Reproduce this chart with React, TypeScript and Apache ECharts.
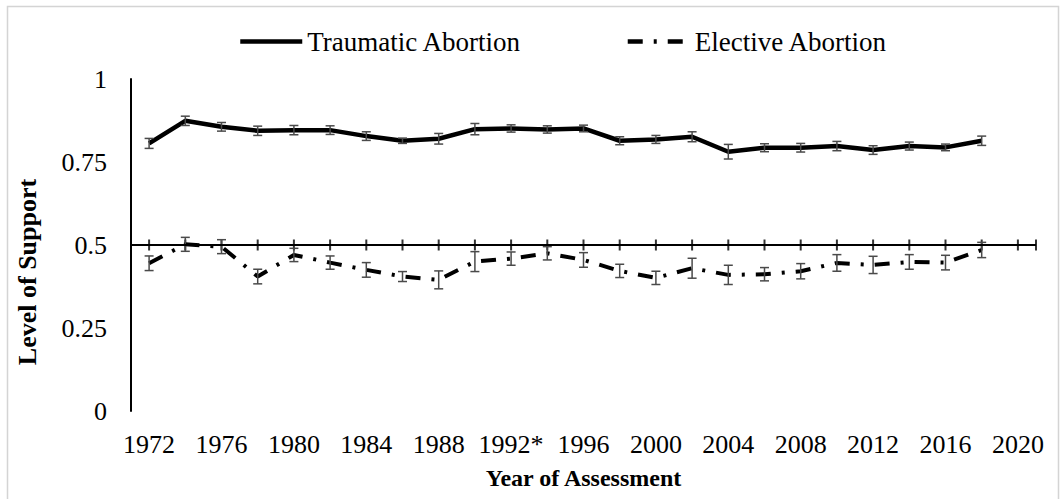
import React, { useEffect, useRef } from "react";
import * as echarts from "echarts";

// Category labels of the x axis (one every two years)
const categories = [
  "1972", "1974", "1976", "1978", "1980", "1982", "1984", "1986", "1988", "1990",
  "1992*", "1994", "1996", "1998", "2000", "2002", "2004", "2006", "2008", "2010",
  "2012", "2014", "2016", "2018", "2020",
];

// Survey years with data
const years = [
  1972, 1974, 1976, 1978, 1980, 1982, 1984, 1986, 1988, 1990, 1992, 1994,
  1996, 1998, 2000, 2002, 2004, 2006, 2008, 2010, 2012, 2014, 2016, 2018,
];

const traumatic = [
  0.806, 0.874, 0.856, 0.844, 0.846, 0.846, 0.828, 0.814, 0.82, 0.849, 0.851, 0.848,
  0.851, 0.814, 0.818, 0.826, 0.781, 0.793, 0.793, 0.798, 0.786, 0.798, 0.794, 0.814,
];
const traumaticErr = [
  0.015, 0.014, 0.013, 0.014, 0.014, 0.013, 0.013, 0.008, 0.016, 0.017, 0.011, 0.011,
  0.01, 0.012, 0.012, 0.015, 0.022, 0.012, 0.013, 0.014, 0.013, 0.012, 0.01, 0.014,
];

const elective = [
  0.445, 0.502, 0.495, 0.405, 0.47, 0.447, 0.425, 0.405, 0.395, 0.45, 0.459, 0.475,
  0.455, 0.422, 0.401, 0.43, 0.41, 0.412, 0.421, 0.446, 0.44, 0.449, 0.447, 0.485,
];
const electiveErr = [
  0.022, 0.021, 0.021, 0.022, 0.02, 0.02, 0.022, 0.015, 0.027, 0.03, 0.02, 0.02,
  0.022, 0.02, 0.02, 0.03, 0.029, 0.02, 0.023, 0.025, 0.026, 0.022, 0.022, 0.023,
];

const yTicks = [0, 0.25, 0.5, 0.75, 1];
const X_MIN = 1971;
const X_MAX = 2021;
const AXIS_CROSS = 0.5;

const FONT = "'Liberation Serif', 'Times New Roman', serif";

export default function App() {
  const ref = useRef<HTMLDivElement>(null);

  useEffect(() => {
    if (!ref.current) return;
    const chart = echarts.init(ref.current, null, { renderer: "svg" });

    const tickPositions = [...categories.map((c) => parseInt(c, 10)), X_MAX];

    const errorBar = (params: any, api: any) => {
      const x = api.value(0);
      const lo = api.value(1);
      const hi = api.value(2);
      const top = api.coord([x, hi]);
      const bot = api.coord([x, lo]);
      const w = 4.5;
      const style = { stroke: "#4a4a4a", lineWidth: 1.5 };
      return {
        type: "group",
        children: [
          { type: "line", shape: { x1: top[0], y1: top[1], x2: bot[0], y2: bot[1] }, style },
          { type: "line", shape: { x1: top[0] - w, y1: top[1], x2: top[0] + w, y2: top[1] }, style },
          { type: "line", shape: { x1: bot[0] - w, y1: bot[1], x2: bot[0] + w, y2: bot[1] }, style },
        ],
      };
    };

    const option: any = {
      animation: false,
      backgroundColor: "#fff",
      textStyle: { fontFamily: FONT, color: "#000" },
      legend: {
        data: ["Traumatic Abortion", "Elective Abortion"],
        left: 233,
        top: 23,
        itemWidth: 62,
        itemHeight: 14,
        itemGap: 104,
        textStyle: { fontFamily: FONT, fontSize: 27, color: "#000" },
        lineStyle: { width: 4.5 },
        itemStyle: { color: "rgba(0,0,0,0)", opacity: 0, borderWidth: 0 },
      },
      grid: { left: 131, right: 25, top: 79, bottom: 88, containLabel: false },
      xAxis: [
        {
          type: "category",
          data: categories,
          boundaryGap: true,
          axisLine: { show: false },
          axisTick: { show: false },
          axisLabel: {
            interval: 1,
            margin: 20,
            fontFamily: FONT,
            fontSize: 26,
            color: "#000",
          },
          splitLine: { show: false },
          name: "Year of Assessment",
          nameLocation: "middle",
          nameGap: 55,
          nameTextStyle: { fontFamily: FONT, fontSize: 24, fontWeight: "bold", color: "#000" },
        },
        {
          type: "value",
          min: X_MIN,
          max: X_MAX,
          show: false,
          splitLine: { show: false },
        },
      ],
      yAxis: {
        type: "value",
        min: yTicks[0],
        max: yTicks[yTicks.length - 1],
        interval: 0.25,
        axisLine: { show: true, onZero: false, lineStyle: { color: "#000", width: 2 } },
        axisTick: { show: false },
        splitLine: { show: false },
        axisLabel: { margin: 24, fontFamily: FONT, fontSize: 26, color: "#000" },
      },
      graphic: [
        {
          type: "rect",
          left: 5,
          top: 4,
          shape: { width: 1051, height: 520 },
          style: { fill: "none", stroke: "#d4d4d4", lineWidth: 1.5 },
          silent: true,
        },
        {
          type: "text",
          x: 27,
          y: 272,
          rotation: Math.PI / 2,
          style: {
            text: "Level of Support",
            font: `bold 26px ${FONT}`,
            fill: "#000",
            align: "center",
            verticalAlign: "middle",
          },
        },
      ],
      series: [
        {
          name: "axisTicks",
          type: "scatter",
          xAxisIndex: 1,
          yAxisIndex: 0,
          symbol: "rect",
          symbolSize: [2, 11],
          itemStyle: { color: "#000" },
          data: tickPositions.map((t) => [t, AXIS_CROSS]),
          silent: true,
          z: 2,
          markLine: {
            silent: true,
            symbol: ["none", "none"],
            label: { show: false },
            lineStyle: { color: "#000", width: 2, type: "solid" },
            data: [{ yAxis: AXIS_CROSS }],
          },
        },
        {
          name: "Traumatic Abortion",
          type: "line",
          xAxisIndex: 1,
          yAxisIndex: 0,
          symbol: "none",
          lineStyle: { color: "#000", width: 4.5 },
          itemStyle: { color: "#000" },
          data: years.map((y, i) => [y, traumatic[i]]),
          z: 3,
        },
        {
          name: "Elective Abortion",
          type: "line",
          xAxisIndex: 1,
          yAxisIndex: 0,
          symbol: "none",
          lineStyle: { color: "#000", width: 4, type: [15, 11, 3, 11] },
          itemStyle: { color: "#000" },
          data: years.map((y, i) => [y, elective[i]]),
          z: 3,
        },
        {
          name: "traumaticErr",
          type: "custom",
          xAxisIndex: 1,
          yAxisIndex: 0,
          renderItem: errorBar,
          encode: { x: 0, y: [1, 2] },
          data: years.map((y, i) => [y, traumatic[i] - traumaticErr[i], traumatic[i] + traumaticErr[i]]),
          silent: true,
          z: 4,
        },
        {
          name: "electiveErr",
          type: "custom",
          xAxisIndex: 1,
          yAxisIndex: 0,
          renderItem: errorBar,
          encode: { x: 0, y: [1, 2] },
          data: years.map((y, i) => [y, elective[i] - electiveErr[i], elective[i] + electiveErr[i]]),
          silent: true,
          z: 4,
        },
      ],
    };

    chart.setOption(option);
    return () => chart.dispose();
  }, []);

  return (
    <div
      ref={ref}
      style={{ position: "fixed", left: 0, top: 0, width: 1061, height: 499, background: "#fff" }}
    />
  );
}
